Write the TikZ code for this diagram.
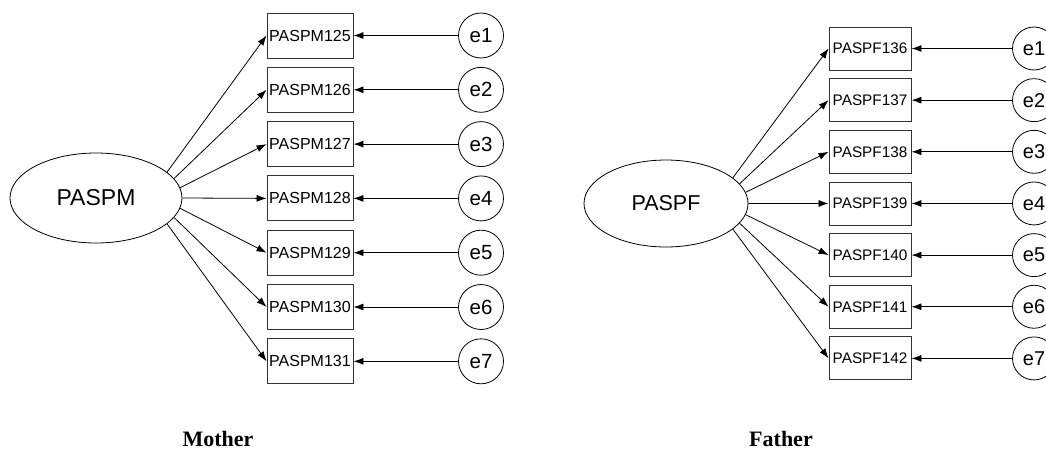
\documentclass[tikz,border=0pt]{standalone}
\usepackage{fontspec}
\setmainfont{Liberation Sans}
\newfontfamily\capfont{Liberation Serif}
\usetikzlibrary{shapes.geometric,arrows.meta}
\tikzset{
  latent/.style={draw, ellipse, inner sep=0pt, line width=0.8pt},
  obsbox/.style={draw, rectangle, inner sep=0pt, line width=0.9pt, draw=black!80},
  errc/.style={draw, circle, inner sep=0pt, line width=0.8pt},
  load/.style={-{Latex[length=10pt,width=7pt]}, line width=0.8pt},
  errarr/.style={-{Latex[length=10pt,width=7pt]}, line width=0.9pt},
  caption/.style={font=\capfont\bfseries\fontsize{22}{26}\selectfont, anchor=base, inner sep=0pt}
}
\begin{document}
\begin{tikzpicture}[x=1pt,y=-1pt]
\useasboundingbox (0,0) rectangle (1046,450);
\fill[white] (0,0) rectangle (1046,450);

% Mother model
\node[latent, minimum width=172pt, minimum height=90pt, font=\fontsize{23}{27}\selectfont] (lm) at (96,198) {PASPM};
\foreach \i/\lab/\ang [count=\k from 0] in {1/125/20,2/126/14,3/127/7,4/128/0,5/129/-7,6/130/-14,7/131/-20} {
  \node[obsbox, minimum width=86pt, minimum height=45pt, font=\fontsize{16}{19}\selectfont] (mb\i) at (310,{35.5+54.3*\k}) {PASPM\lab};
  \node[errc, minimum size=45pt, font=\fontsize{20.5}{24}\selectfont] (me\i) at (481,{35.5+54.3*\k}) {e\i};
  \draw[load] (lm.\ang) -- (mb\i.west);
  \draw[errarr] (me\i) -- (mb\i.east);
}
\node[caption] (mcap) at (218,446.5) {Mother};

% Father model
\node[latent, minimum width=164pt, minimum height=87pt, font=\fontsize{21.5}{25}\selectfont] (lf) at (666,203.5) {PASPF};
\foreach \i/\lab/\ang [count=\k from 0] in {1/136/21,2/137/15,3/138/8,4/139/0,5/140/-8,6/141/-15,7/142/-21} {
  \node[obsbox, minimum width=82pt, minimum height=43pt, font=\fontsize{15.3}{18}\selectfont] (fb\i) at (870,{48.5+51.65*\k}) {PASPF\lab};
  \node[errc, minimum size=43pt, font=\fontsize{20}{24}\selectfont] (fe\i) at (1034,{48.5+51.65*\k}) {e\i};
  \draw[load] (lf.\ang) -- (fb\i.west);
  \draw[errarr] (fe\i) -- (fb\i.east);
}
\node[caption] (fcap) at (781,446.5) {Father};
\end{tikzpicture}
\end{document}
